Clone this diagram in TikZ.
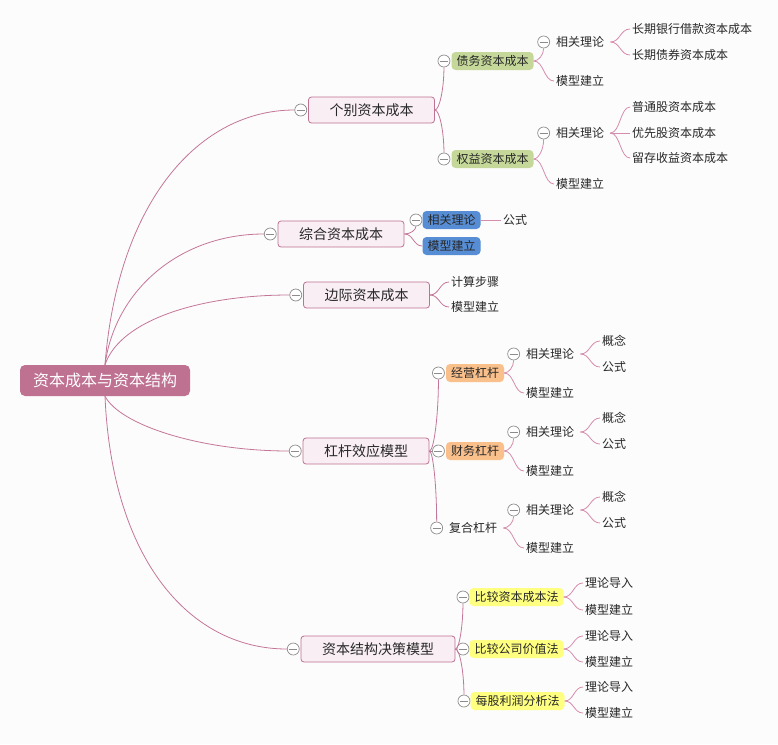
\documentclass[tikz,border=0pt]{standalone}
\usepackage{fontspec}
\setmainfont{Noto Sans CJK SC}
\usetikzlibrary{positioning, calc}

\definecolor{bgc}{RGB}{252,252,252}
\definecolor{txtc}{RGB}{40,40,40}
\definecolor{rootc}{RGB}{191,113,145}
\definecolor{mainc}{RGB}{249,238,244}
\definecolor{trunkc}{RGB}{196,118,152}
\definecolor{branchc}{RGB}{214,140,172}
\definecolor{greenc}{RGB}{197,216,154}
\definecolor{bluec}{RGB}{86,141,212}
\definecolor{orangec}{RGB}{250,192,140}
\definecolor{yellowc}{RGB}{255,255,128}
\definecolor{foldc}{RGB}{140,140,140}

\begin{document}
\begin{tikzpicture}[
  x=1pt, y=-1pt,
  every node/.style={text=txtc, font=\fontsize{12}{14}\selectfont},
  root/.style={fill=rootc, text=white, rounded corners=5pt, minimum width=170pt, minimum height=31pt, font=\fontsize{16}{18}\selectfont},
  main/.style={draw=rootc, fill=mainc, rounded corners=3pt, line width=0.8pt, inner xsep=21pt, minimum height=26pt, font=\fontsize{14}{16}\selectfont},
  tag/.style={rounded corners=4pt, inner xsep=5pt, inner ysep=0pt, minimum height=18pt},
  hub/.style={anchor=west, inner xsep=6pt, inner ysep=2pt},
  leaf/.style={anchor=west, inner sep=2pt},
  fold/.style={circle, draw=foldc, fill=white, line width=0.7pt, minimum size=12pt, inner sep=0pt,
    path picture={\draw[foldc, line width=0.7pt] ([xshift=-4pt]path picture bounding box.center) -- ([xshift=4pt]path picture bounding box.center);}},
  trunk/.style={draw=trunkc, line width=0.8pt},
  branch/.style={draw=branchc, line width=0.8pt},
  fork/.style={to path={let \p1=(\tikztostart), \p2=(\tikztotarget) in
    .. controls ({(\x1+\x2)/2},\y1) and ({(\x1+\x2)/2},\y2) .. (\tikztotarget)}},
  rise/.style={to path={let \p1=(\tikztostart), \p2=(\tikztotarget) in
    .. controls ({(\x1+\x2)/2},\y1) and (\x2,{(\y1+\y2)/2}) .. (\tikztotarget)}}
]
\fill[bgc] (0,0) rectangle (778,744);
\useasboundingbox (0,0) rectangle (778,744);

\node (root) [root] at (105,380.5) {资本成本与资本结构};

\node (indiv) [main] at (371.5,110) {个别资本成本};
\node (indiv-f) [fold, left=1pt of indiv] {};
\node (wacc) [main] at (341,234) {综合资本成本};
\node (wacc-f) [fold, left=1pt of wacc] {};
\node (marg) [main] at (366.5,295) {边际资本成本};
\node (marg-f) [fold, left=1pt of marg] {};
\node (lever) [main] at (366,451) {杠杆效应模型};
\node (lever-f) [fold, left=1pt of lever] {};
\node (struct) [main] at (378,649) {资本结构决策模型};
\node (struct-f) [fold, left=1pt of struct] {};

\node (debt) [tag, fill=greenc] at (492.5,61) {债务资本成本};
\node (debt-f) [fold, left=1pt of debt] {};
\node (debt-th) [hub] at (550,42) {相关理论};
\node (debt-th-f) [fold, left=0pt of debt-th] {};
\node (debt-mod) [leaf] at (554,81) {模型建立};
\node (debt-bank) [leaf] at (630,29) {长期银行借款资本成本};
\node (debt-bond) [leaf] at (630,55) {长期债券资本成本};

\node (eq) [tag, fill=greenc] at (492.5,159) {权益资本成本};
\node (eq-f) [fold, left=1pt of eq] {};
\node (eq-th) [hub] at (550,133) {相关理论};
\node (eq-th-f) [fold, left=0pt of eq-th] {};
\node (eq-mod) [leaf] at (554,184) {模型建立};
\node (eq-com) [leaf] at (630,107) {普通股资本成本};
\node (eq-pref) [leaf] at (630,133) {优先股资本成本};
\node (eq-ret) [leaf] at (630,158) {留存收益资本成本};

\node (wacc-th) [tag, fill=bluec] at (451.5,220) {相关理论};
\node (wacc-th-f) [fold, left=0pt of wacc-th] {};
\node (wacc-mod) [tag, fill=bluec] at (451.5,246) {模型建立};
\node (wacc-for) [leaf] at (501,220) {公式};

\node (marg-step) [leaf] at (449,282) {计算步骤};
\node (marg-mod) [leaf] at (449,307) {模型建立};

\node (op) [tag, fill=orangec] at (475,373) {经营杠杆};
\node (op-f) [fold, left=1pt of op] {};
\node (op-th) [hub] at (520,354) {相关理论};
\node (op-th-f) [fold, left=0pt of op-th] {};
\node (op-mod) [leaf] at (524,393) {模型建立};
\node (op-con) [leaf] at (600,341) {概念};
\node (op-for) [leaf] at (600,367) {公式};

\node (fin) [tag, fill=orangec] at (475,451) {财务杠杆};
\node (fin-f) [fold, left=1pt of fin] {};
\node (fin-th) [hub] at (520,432) {相关理论};
\node (fin-th-f) [fold, left=0pt of fin-th] {};
\node (fin-mod) [leaf] at (524,471) {模型建立};
\node (fin-con) [leaf] at (600,418) {概念};
\node (fin-for) [leaf] at (600,444) {公式};

\node (comb) [hub] at (443,528) {复合杠杆};
\node (comb-f) [fold, left=0pt of comb] {};
\node (comb-th) [hub] at (520,510) {相关理论};
\node (comb-th-f) [fold, left=0pt of comb-th] {};
\node (comb-mod) [leaf] at (524,548) {模型建立};
\node (comb-con) [leaf] at (600,497) {概念};
\node (comb-for) [leaf] at (600,523) {公式};

\node (cost) [tag, fill=yellowc] at (516.5,597) {比较资本成本法};
\node (cost-f) [fold, left=0pt of cost] {};
\node (cost-in) [leaf] at (583,583) {理论导入};
\node (cost-mod) [leaf] at (583,610) {模型建立};
\node (val) [tag, fill=yellowc] at (516.5,649) {比较公司价值法};
\node (val-f) [fold, left=0pt of val] {};
\node (val-in) [leaf] at (583,636) {理论导入};
\node (val-mod) [leaf] at (583,662) {模型建立};
\node (eps) [tag, fill=yellowc] at (517.5,701) {每股利润分析法};
\node (eps-f) [fold, left=0pt of eps] {};
\node (eps-in) [leaf] at (583,687) {理论导入};
\node (eps-mod) [leaf] at (583,713) {模型建立};

\draw[trunk] (root.north) .. controls (118,200) and (200,110) .. (indiv-f.west);
\draw[trunk] (root.north) .. controls (115,290) and (180,234) .. (wacc-f.west);
\draw[trunk] (root.north) .. controls (120,320) and (200,295) .. (marg-f.west);
\draw[trunk] (root.south) .. controls (120,425) and (200,451) .. (lever-f.west);
\draw[trunk] (root.south) .. controls (112,560) and (190,649) .. (struct-f.west);

\draw[trunk] (indiv.east) to[rise] (debt-f.south);
\draw[trunk] (indiv.east) to[rise] (eq-f.north);
\draw[branch] (debt.east) to[rise] (debt-th-f.south);
\draw[branch] (debt.east) to[fork] (debt-mod.west);
\draw[branch] (debt-th.east) to[fork] (debt-bank.west);
\draw[branch] (debt-th.east) to[fork] (debt-bond.west);
\draw[branch] (eq.east) to[rise] (eq-th-f.south);
\draw[branch] (eq.east) to[fork] (eq-mod.west);
\draw[branch] (eq-th.east) to[fork] (eq-com.west);
\draw[branch] (eq-th.east) to[fork] (eq-pref.west);
\draw[branch] (eq-th.east) to[fork] (eq-ret.west);

\draw[trunk] (wacc.east) to[rise] (wacc-th-f.south);
\draw[trunk] (wacc.east) to[fork] (wacc-mod.west);
\draw[branch] (wacc-th.east) to[fork] (wacc-for.west);

\draw[trunk] (marg.east) to[fork] (marg-step.west);
\draw[trunk] (marg.east) to[fork] (marg-mod.west);

\draw[trunk] (lever.east) to[rise] (op-f.south);
\draw[trunk] (lever.east) to[fork] (fin-f.west);
\draw[trunk] (lever.east) to[rise] (comb-f.north);
\draw[branch] (op.east) to[rise] (op-th-f.south);
\draw[branch] (op.east) to[fork] (op-mod.west);
\draw[branch] (op-th.east) to[fork] (op-con.west);
\draw[branch] (op-th.east) to[fork] (op-for.west);
\draw[branch] (fin.east) to[rise] (fin-th-f.south);
\draw[branch] (fin.east) to[fork] (fin-mod.west);
\draw[branch] (fin-th.east) to[fork] (fin-con.west);
\draw[branch] (fin-th.east) to[fork] (fin-for.west);
\draw[branch] (comb.east) to[rise] (comb-th-f.south);
\draw[branch] (comb.east) to[fork] (comb-mod.west);
\draw[branch] (comb-th.east) to[fork] (comb-con.west);
\draw[branch] (comb-th.east) to[fork] (comb-for.west);

\draw[trunk] (struct.east) to[rise] (cost-f.south);
\draw[trunk] (struct.east) to[fork] (val-f.west);
\draw[trunk] (struct.east) to[rise] (eps-f.north);
\draw[branch] (cost.east) to[fork] (cost-in.west);
\draw[branch] (cost.east) to[fork] (cost-mod.west);
\draw[branch] (val.east) to[fork] (val-in.west);
\draw[branch] (val.east) to[fork] (val-mod.west);
\draw[branch] (eps.east) to[fork] (eps-in.west);
\draw[branch] (eps.east) to[fork] (eps-mod.west);
\end{tikzpicture}
\end{document}
